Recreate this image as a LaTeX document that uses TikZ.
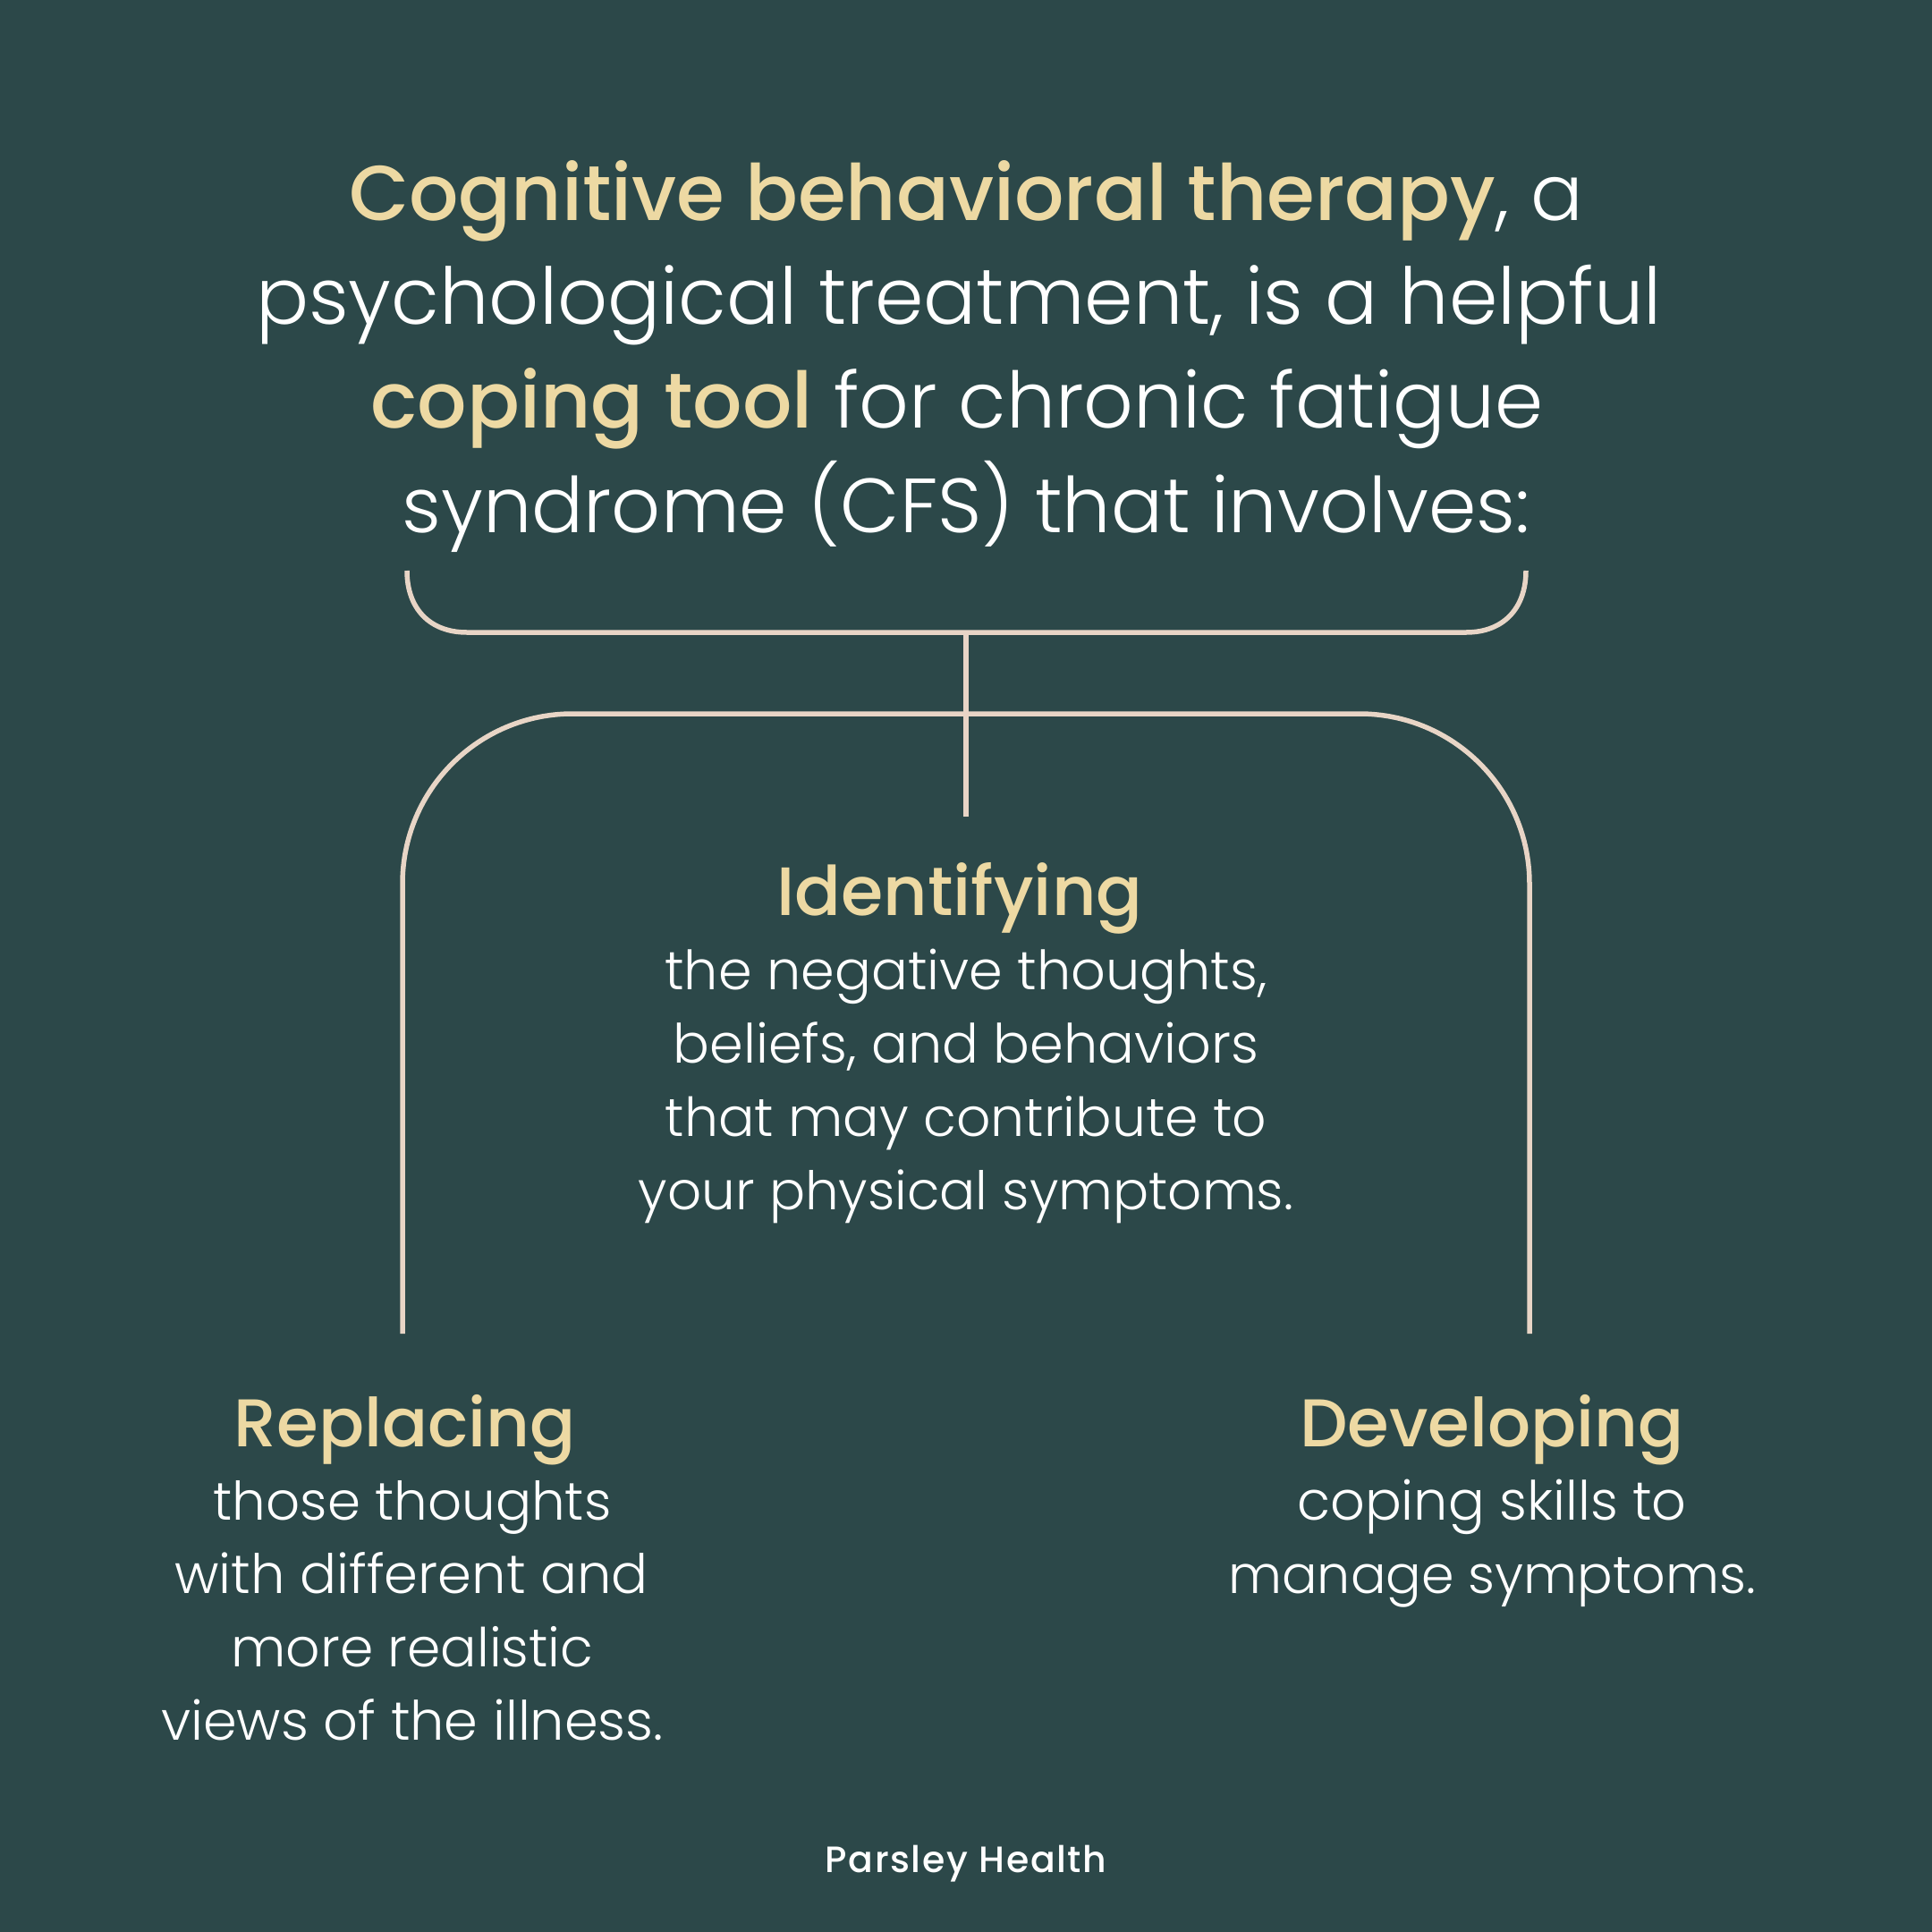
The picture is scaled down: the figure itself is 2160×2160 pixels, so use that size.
\documentclass[tikz,border=0pt]{standalone}
\usepackage{fontspec}
\setmainfont{Poppins Light}[BoldFont=Poppins Medium]
\newfontfamily\brand{Poppins Medium}[LetterSpace=4]
\definecolor{bg}{HTML}{2C4849}
\definecolor{gold}{HTML}{EDD9A3}
\definecolor{ln}{HTML}{E8D5C6}
\tikzset{
  txt/.style={text=white,align=center,inner sep=0pt,anchor=base},
  big/.style={txt,font=\fontsize{#1}{116}\selectfont},
  big/.default=87,
  head/.style={txt,text=gold,font=\fontsize{#1}{84}\selectfont\bfseries},
  head/.default=75.5,
  body/.style={txt,font=\fontsize{#1}{82}\selectfont},
  body/.default=60.5,
  conn/.style={draw=ln,line width=5.5pt}
}
\newcommand{\hl}[1]{\textcolor{gold}{\textbf{#1}}}
\begin{document}
\begin{tikzpicture}[x=1pt,y=-1pt]
\path[use as bounding box,fill=bg] (0,0) rectangle (2160,2160);
\node[big] (l1) at (1080,246) {\hl{Cognitive behavioral therapy}, a};
\node[big=87.6] (l2) at (1072,362) {psychological treatment, is a helpful};
\node[big] (l3) at (1070,478) {\hl{coping tool} for chronic fatigue};
\node[big=85.9] (l4) at (1080,595) {syndrome (CFS) that involves:};
\node[head=76.5] (h1) at (1073,1023) {Identifying};
\node[body] (b11) at (1080,1106) {the negative thoughts,};
\node[body] (b12) at (1080,1188) {beliefs, and behaviors};
\node[body=60] (b13) at (1080,1270) {that may contribute to};
\node[body=59.5] (b14) at (1080,1352) {your physical symptoms.};
\node[head] (h2) at (453,1617) {Replacing};
\node[body=59.5] (b21) at (461,1699) {those thoughts};
\node[body=60.8] (b22) at (460,1781) {with different and};
\node[body=60] (b23) at (461,1863) {more realistic};
\node[body=60.6] (b24) at (461,1945) {views of the illness.};
\node[head] (h3) at (1668,1617) {Developing};
\node[body=60.5] (b31) at (1668,1699) {coping skills to};
\node[body=58.7] (b32) at (1668,1781) {manage symptoms.};
\node[txt,font=\fontsize{41}{46}\selectfont\brand] (ph) at (1080,2093) {Parsley Health};
\coordinate (bl) at (455,638);
\coordinate (br) at (1706,638);
\coordinate (bm) at (1080,707);
\coordinate (am) at (1080,798);
\coordinate (ad) at (1080,913);
\coordinate (al) at (450,1491);
\coordinate (ar) at (1710,1491);
\draw[conn] (bl) .. controls (455,680) and (480,707) .. (522,707) -- (bm) -- (1639,707) .. controls (1681,707) and (1706,680) .. (br);
\draw[conn] (bm) -- (am) -- (ad);
\draw[conn] (al) -- (450,988) .. controls (450,883) and (535,798) .. (640,798) -- (am) -- (1520,798) .. controls (1625,798) and (1710,883) .. (1710,988) -- (ar);
\end{tikzpicture}
\end{document}
